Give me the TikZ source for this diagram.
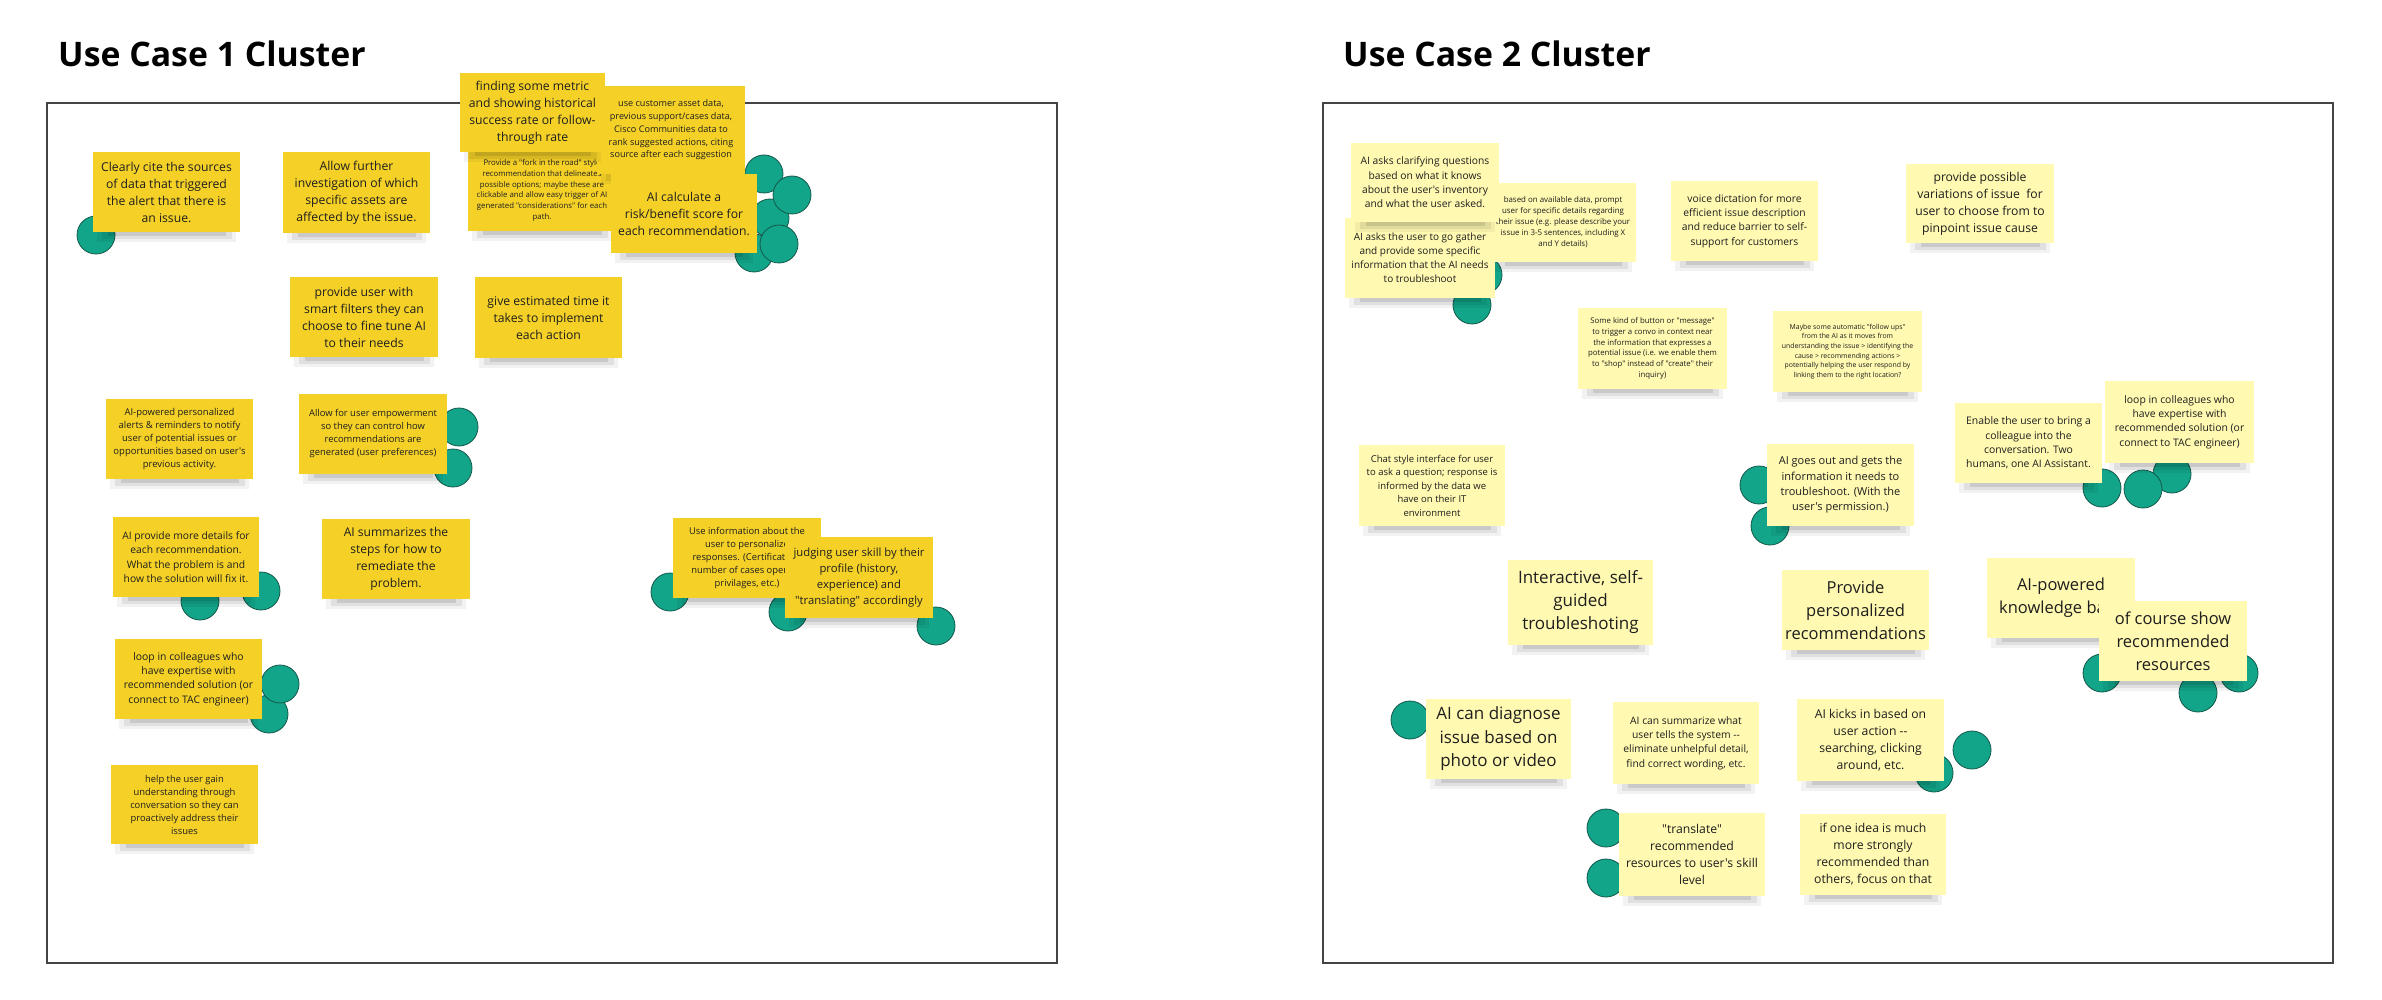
\documentclass[tikz,border=0pt]{standalone}
\usepackage{fontspec}
\setmainfont{Open Sans}[Ligatures=TeXOff]
\definecolor{stkA}{HTML}{F5D128}
\definecolor{stkB}{HTML}{FFF9B1}
\definecolor{dotc}{HTML}{12A589}
\definecolor{dotb}{HTML}{14584A}
\definecolor{txt}{HTML}{1E1E1E}
\definecolor{framec}{HTML}{444444}
\tikzset{
  stickynode/.style={inner sep=0pt, align=center, text=txt, draw=none},
  tealdot/.style={circle, fill=dotc, draw=dotb, line width=0.8pt, minimum size=38pt, inner sep=0pt},
  framebox/.style={draw=framec, line width=1.3pt},
  titletext/.style={anchor=base west, font=\fontsize{33.8}{40}\selectfont\bfseries, text=black, inner sep=0pt}
}
\newcommand\sticky[9]{%
  \fill[black,opacity=0.05] ({#2+4},{#5-6}) rectangle ({#4-4},{#5+10});
  \fill[black,opacity=0.07] ({#2+9},{#5-4}) rectangle ({#4-8},{#5+7});
  \fill[black,opacity=0.10] ({#2+15},{#5-2}) rectangle ({#4-14},{#5+4});
  \node[stickynode, fill=#6, minimum width={#4-#2}, minimum height={#5-#3}, font=\fontsize{#7}{#8}\selectfont] (#1) at ({(#2+#4)/2},{(#3+#5)/2}) {#9};
}
\newcommand\tdot[3]{\node[tealdot] (#1) at (#2,#3) {};}
\begin{document}
\begin{tikzpicture}[x=1pt,y=-1pt]
\useasboundingbox (0,0) rectangle (2382,1000);
\fill[white] (0,0) rectangle (2382,1000);

% titles
\node[titletext] (t1) at (58,67) {Use Case 1 Cluster};
\node[titletext] (t2) at (1343,67) {Use Case 2 Cluster};

% frames
\draw[framebox] (47,103) rectangle (1057,963);
\draw[framebox] (1323,103) rectangle (2333,963);

% ---------- left dots ----------
\tdot{c1}{96}{235}
\tdot{c2}{764}{174}
\tdot{c3}{770}{218}
\tdot{c4}{792}{195}
\tdot{c5}{754}{253}
\tdot{c6}{779}{244}
\tdot{c8}{453}{468}
\tdot{c7}{459}{427}
\tdot{c9}{200}{601}
\tdot{c10}{261}{591}
\tdot{c11}{269}{714}
\tdot{c12}{280}{684}
\tdot{c13}{670}{592}
\tdot{c14}{788}{612}
\tdot{c15}{936}{626}

% ---------- right dots ----------
\tdot{d1}{1483}{275}
\tdot{d2}{1472}{305}
\tdot{d3}{1759}{485}
\tdot{d4}{1770}{526}
\tdot{d5}{2172}{474}
\tdot{d6}{2102}{488}
\tdot{d7}{2143}{489}
\tdot{d8}{2102}{673}
\tdot{d9}{2198}{693}
\tdot{d10}{2239}{673}
\tdot{d11}{1410}{720}
\tdot{d12}{1972}{750}
\tdot{d13}{1934}{773}
\tdot{d14}{1606}{828}
\tdot{d15}{1606}{878}

% ---------- left stickies ----------
\sticky{cite}{93}{152}{240}{232}{stkA}{12.2}{17}{Clearly cite the sources\\of data that triggered\\the alert that there is\\an issue.}
\sticky{further}{283}{152}{430}{233}{stkA}{12.2}{17}{Allow further\\investigation of which\\specific assets are\\affected by the issue.}
\sticky{fork}{468}{150}{616}{231}{stkA}{7.8}{10.8}{Provide a "fork in the road" style\\recommendation that delineates\\possible options; maybe these are\\clickable and allow easy trigger of AI\\generated "considerations" for each\\path.}
\sticky{customer}{597}{86}{745}{174}{stkA}{9.1}{12.7}{use customer asset data,\\previous support/cases data,\\Cisco Communities data to\\rank suggested actions, citing\\source after each suggestion}
\sticky{finding}{460}{73}{605}{152}{stkA}{12.2}{17}{finding some metric\\and showing historical\\success rate or follow-\\through rate}
\sticky{calc}{611}{174}{757}{253}{stkA}{12.2}{17}{AI calculate a\\risk/benefit score for\\each recommendation.}
\sticky{filters}{290}{277}{438}{357}{stkA}{12.2}{17}{provide user with\\smart filters they can\\choose to fine tune AI\\to their needs}
\sticky{estimate}{475}{277}{622}{358}{stkA}{12.2}{17}{give estimated time it\\takes to implement\\each action}
\sticky{alerts}{106}{399}{253}{479}{stkA}{9.5}{13.2}{AI-powered personalized\\alerts \& reminders to notify\\user of potential issues or\\opportunities based on user's\\previous activity.}
\sticky{empower}{299}{394}{447}{474}{stkA}{9.4}{13}{Allow for user empowerment\\so they can control how\\recommendations are\\generated (user preferences)}
\sticky{details}{113}{517}{259}{597}{stkA}{10.3}{14.3}{AI provide more details for\\each recommendation.\\What the problem is and\\how the solution will fix it.}
\sticky{summarizes}{322}{519}{470}{599}{stkA}{12.1}{16.8}{AI summarizes the\\steps for how to\\remediate the\\problem.}
\sticky{loopA}{115}{639}{262}{719}{stkA}{10.4}{14.4}{loop in colleagues who\\have expertise with\\recommended solution (or\\connect to TAC engineer)}
\sticky{help}{111}{765}{258}{844}{stkA}{9.4}{13}{help the user gain\\understanding through\\conversation so they can\\proactively address their\\issues}
\sticky{useinfo}{673}{518}{821}{598}{stkA}{9.4}{13}{Use information about the\\user to personalize\\responses. (Certification,\\number of cases opened,\\privilages, etc.)}
\sticky{judging}{785}{537}{933}{618}{stkA}{11.3}{15.8}{judging user skill by their\\profile (history,\\experience) and\\"translating" accordingly}

% ---------- right stickies ----------
\sticky{basedon}{1490}{183}{1636}{262}{stkB}{7.9}{11}{based on available data, prompt\\user for specific details regarding\\their issue (e.g. please describe your\\issue in 3-5 sentences, including X\\and Y details)}
\sticky{askuser}{1345}{218}{1495}{298}{stkB}{10}{13.9}{AI asks the user to go gather\\and provide some specific\\information that the AI needs\\to troubleshoot}
\sticky{clarify}{1351}{143}{1499}{222}{stkB}{10.3}{14.3}{AI asks clarifying questions\\based on what it knows\\about the user's inventory\\and what the user asked.}
\sticky{voice}{1671}{181}{1818}{261}{stkB}{10.3}{14.3}{voice dictation for more\\efficient issue description\\and reduce barrier to self-\\support for customers}
\sticky{variations}{1906}{164}{2054}{243}{stkB}{12.2}{17}{provide possible\\variations of issue\ \ for\\user to choose from to\\pinpoint issue cause}
\sticky{button}{1578}{308}{1727}{389}{stkB}{7.8}{10.8}{Some kind of button or "message"\\to trigger a convo in context near\\the information that expresses a\\potential issue (i.e. we enable them\\to "shop" instead of "create" their\\inquiry)}
\sticky{followup}{1773}{311}{1922}{392}{stkB}{6.9}{9.6}{Maybe some automatic "follow ups"\\from the AI as it moves from\\understanding the issue > identifying the\\cause > recommending actions >\\potentially helping the user respond by\\linking them to the right location?}
\sticky{enable}{1955}{403}{2102}{483}{stkB}{10.4}{14.4}{Enable the user to bring a\\colleague into the\\conversation. Two\\humans, one AI Assistant.}
\sticky{loopB}{2105}{381}{2254}{463}{stkB}{10.4}{14.4}{loop in colleagues who\\have expertise with\\recommended solution (or\\connect to TAC engineer)}
\sticky{chat}{1359}{445}{1505}{526}{stkB}{9.5}{13.5}{Chat style interface for user\\to ask a question; response is\\informed by the data we\\have on their IT\\environment}
\sticky{goesout}{1767}{444}{1914}{526}{stkB}{11}{15.3}{AI goes out and gets the\\information it needs to\\troubleshoot. (With the\\user's permission.)}
\sticky{interactive}{1508}{560}{1653}{645}{stkB}{17}{23}{Interactive, self-\\guided\\troubleshoting}
\sticky{personalized}{1782}{570}{1929}{650}{stkB}{16.5}{23}{Provide\\personalized\\recommendations}
\sticky{knowledge}{1987}{558}{2135}{638}{stkB}{16.5}{23}{AI-powered\\knowledge base}
\sticky{ofcourse}{2099}{601}{2247}{681}{stkB}{16.5}{23}{of course show\\recommended\\resources}
\sticky{diagnose}{1426}{699}{1571}{779}{stkB}{17}{23.5}{AI can diagnose\\issue based on\\photo or video}
\sticky{summarize}{1613}{702}{1759}{784}{stkB}{10.3}{14.3}{AI can summarize what\\user tells the system --\\eliminate unhelpful detail,\\find correct wording, etc.}
\sticky{kicks}{1797}{699}{1944}{781}{stkB}{12.2}{17}{AI kicks in based on\\user action --\\searching, clicking\\around, etc.}
\sticky{translate}{1619}{813}{1765}{896}{stkB}{12.2}{17}{"translate"\\recommended\\resources to user's skill\\level}
\sticky{oneidea}{1800}{814}{1946}{895}{stkB}{12.2}{17}{if one idea is much\\more strongly\\recommended than\\others, focus on that}
\end{tikzpicture}
\end{document}
